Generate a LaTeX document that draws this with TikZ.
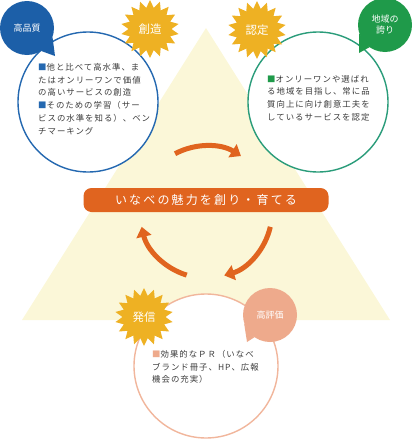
\documentclass[tikz,border=0pt]{standalone}
\usepackage{fontspec}
\setmainfont{Noto Sans CJK JP}
\newfontfamily\notefont[LetterSpace=12]{Noto Sans CJK JP}
\newfontfamily\titlefont[LetterSpace=18]{Noto Sans CJK JP}
\usepackage{xcolor}
\usetikzlibrary{arrows.meta, shapes.geometric}
\definecolor{tri}{HTML}{FBF7D8}
\definecolor{hqblue}{HTML}{1C5FA8}
\definecolor{ringblue}{HTML}{2468B0}
\definecolor{locgreen}{HTML}{1F9A4A}
\definecolor{ringgreen}{HTML}{2A9C7A}
\definecolor{evalpink}{HTML}{EEAA8C}
\definecolor{ringpink}{HTML}{F1B69C}
\definecolor{gold}{HTML}{EEB123}
\definecolor{flowc}{HTML}{E0641F}
\definecolor{ink}{HTML}{3C3C3C}
\tikzset{
  ring/.style={draw, circle, line width=1.4pt, fill=white, minimum size=140pt, inner sep=0pt},
  bubble/.style={circle, minimum size=54pt, inner sep=0pt, text=white, align=center, font=\fontsize{9}{11}\selectfont},
  burst/.style={star, star points=18, star point ratio=1.35, minimum size=58pt, inner sep=0pt, fill=gold, text=white, font=\fontsize{11.5}{12}\selectfont},
  note/.style={anchor=north west, align=left, inner sep=0pt, text=ink, font=\notefont\fontsize{8.4}{12.8}\selectfont},
  banner/.style={rounded corners=8pt, fill=flowc, text=white, minimum width=245pt, minimum height=24pt, inner sep=0pt, font=\titlefont\fontsize{12}{14}\selectfont},
  flow/.style={line width=5pt, flowc, -{Triangle[length=10pt, width=15pt]}}
}

\begin{document}
\begin{tikzpicture}[x=1pt, y=-1pt]
  \useasboundingbox (0,0) rectangle (412,439);
  % background triangle
  \fill[tri] (206,28) -- (22,320) -- (390,320) -- cycle;

  % three circles
  \node[ring, draw=ringblue] (quality) at (88,102) {};
  \node[ring, draw=ringgreen] (pride) at (318,102) {};
  \node[ring, draw=ringpink, minimum size=144pt] (send) at (206,366) {};

  \node[banner] (title) at (206,200) {いなべの魅力を創り・育てる};

  % cycle arrows
  \coordinate (ctr) at (206,212);
  \draw[flow] ([shift={(-118:66)}]ctr) arc[start angle=-118, end angle=-58, radius=66];
  \draw[flow] ([shift={(13:66)}]ctr) arc[start angle=13, end angle=74, radius=66];
  \draw[flow] ([shift={(107:66)}]ctr) arc[start angle=107, end angle=167, radius=66];

  % stars
  \node[burst] (create) at (150,29) {創造};
  \node[burst] (certify) at (257,30) {認定};
  \node[burst] (publish) at (144,317) {発信};

  % speech bubbles
  \node[bubble, fill=hqblue] (hq) at (27,28) {高品質};
  \fill[hqblue] (hq.-20) -- (55,56) -- (hq.-58) -- cycle;
  \node[bubble, fill=locgreen] (loc) at (385,25) {地域の\\誇り};
  \fill[locgreen] (loc.-125) -- (359,53) -- (loc.-162) -- cycle;
  \node[bubble, fill=evalpink] (eval) at (270,315) {高評価};
  \fill[evalpink] (eval.-125) -- (247,342) -- (eval.-162) -- cycle;

  % circle texts
  \node[note] (qtext) at (38,63) {{\color{ringblue}■}他と比べて高水準、ま\\たはオンリーワンで価値\\の高いサービスの創造\\{\color{ringblue}■}そのための学習（サー\\ビスの水準を知る）、ベン\\チマーキング};
  \node[note] (ptext) at (267,75) {{\color{locgreen}■}オンリーワンや選ばれ\\る地域を目指し、常に品\\質向上に向け創意工夫を\\しているサービスを認定};
  \node[note] (stext) at (152,350) {{\color{evalpink}■}効果的なＰＲ（いなべ\\ブランド冊子、HP、広報\\機会の充実）};
\end{tikzpicture}
\end{document}
